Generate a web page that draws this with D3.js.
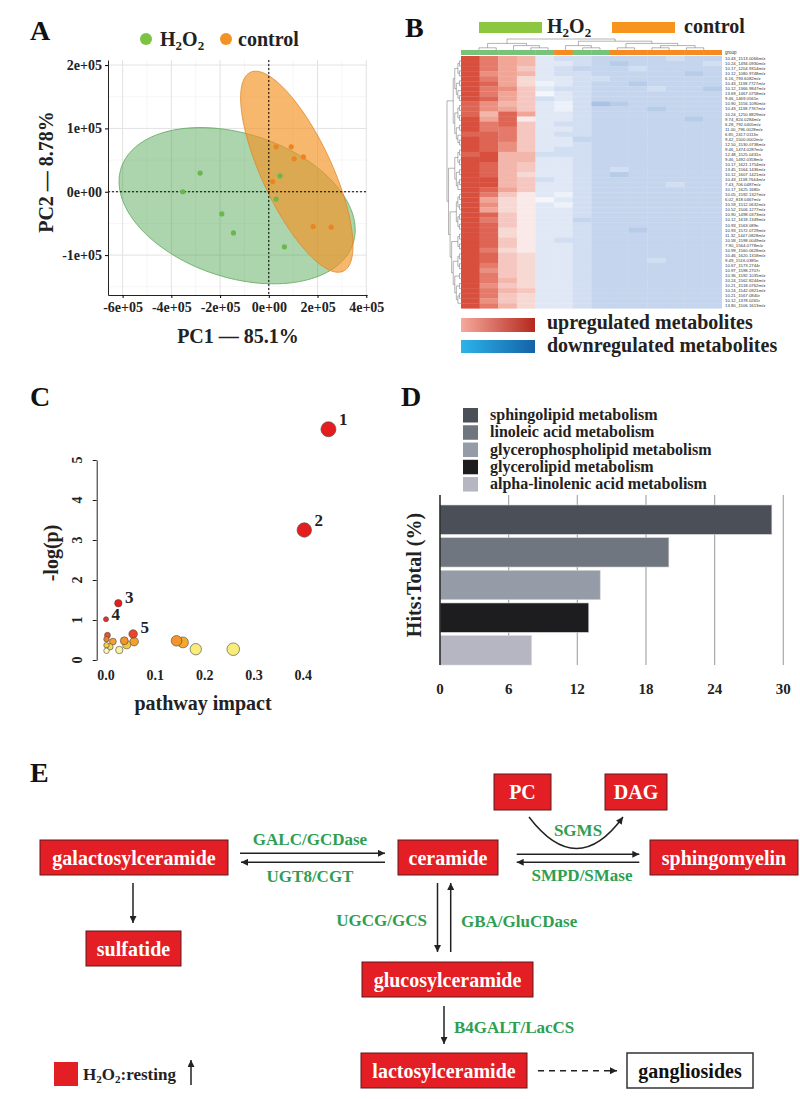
<!DOCTYPE html>
<html><head><meta charset="utf-8">
<script src="https://cdn.jsdelivr.net/npm/d3@7"></script>
<style>body{margin:0;background:#fff}svg{display:block}</style>
</head><body><script>
// ================= DATA =================
// Panel A: PCA scores
const pcaGroups = ["H2O2","H2O2","H2O2","H2O2","H2O2","H2O2","H2O2","control","control","control","control","control","control","control"];
const pcaPC1 = [-3.53e5,-2.82e5,-1.93e5,-1.45e5,0.64e5,0.46e5,0.30e5, 0.30e5,0.92e5,1.04e5,1.42e5,0.16e5,1.82e5,2.56e5];
const pcaPC2 = [0,2.95e4,-3.5e4,-6.5e4,-8.7e4,2.5e4,-1.15e4, 7.1e4,7.1e4,5.2e4,5.5e4,1.6e4,-5.5e4,-5.6e4];
const ellipseGroups = ["H2O2","control"];
const ellipseCenter = [[-1.30e5,-2.2e4],[1.15e5,3.16e4]];
const ellipseAxis1 = [[4.76e5,-5.96e4],[1.905e5,-1.57e5]];
const ellipseAxis2 = [[-9.1e4,-1.08e5],[-1.30e5,-2.34e4]];
const pcaXTicks = [-6e5,-4e5,-2e5,0,2e5,4e5];
const pcaYTicks = [-1e5,0,1e5,2e5];

// Panel B: heatmap
const colGroups = ["H2O2","H2O2","H2O2","H2O2","H2O2","control","H2O2","H2O2","control","control","control","control","control","control"];
const heatValues = [
 [9,7,5,4,-2,-3,-3,-4,-4,-4,-4,-3,-4,-4],
 [9,7,5,4,-2,-2,-3,-4,-5,-4,-4,-4,-4,-3],
 [9,7,5,3,-2,-3,-4,-4,-4,-3,-4,-4,-4,-4],
 [9,6,5,4,-2,-3,-3,-4,-4,-4,-4,-4,-5,-4],
 [9,7,5,2,-2,-2,-3,-3,-4,-4,-4,-4,-4,-4],
 [9,8,5,2,-1,-2,-3,-4,-4,-5,-4,-4,-4,-4],
 [9,7,6,3,-2,-3,-3,-4,-4,-4,-3,-4,-4,-5],
 [9,7,5,3,-0.5,-2,-3,-4,-4,-4,-4,-4,-4,-4],
 [9,8,5,3,-3,-2,-3,-4,-4,-4,-4,-4,-4,-4],
 [8,6,4,3,-2,-1,-3,-6,-5,-4,-4,-4,-4,-4],
 [8,6,5,3,-2,-1,-3,-4,-4,-4,-5,-4,-4,-4],
 [8,4,8,5,-2,-2,-3,-4,-4,-4,-4,-4,-4,-4],
 [9,5,8,1,-2,-2,-3,-4,-4,-4,-4,-4,-5,-4],
 [9,7,8,3,-2,-3,-3,-4,-4,-4,-4,-4,-4,-4],
 [9,7,7,3,-2,-2,-3,-4,-4,-4,-4,-4,-4,-4],
 [8,8,7,3,-2,-3,-3,-4,-4,-4,-4,-4,-4,-4],
 [9,8,7,3,-2,-2,-4,-4,-4,-4,-4,-4,-4,-4],
 [9,8,6,3,-2,-2,-3,-4,-4,-4,-4,-4,-4,-4],
 [9,8,6,3,-2,-3,-3,-4,-4,-4,-4,-4,-4,-4],
 [8,9,4,4,-3,-3,-3,-4,-4,-4,-4,-4,-4,-4],
 [9,9,4,4,-2,-2,-3,-4,-4,-4,-4,-4,-4,-4],
 [9,8,4,3,-2,-2,-3,-4,-4,-4,-4,-4,-4,-4],
 [9,8,4,3,-2,-2,-3,-4,-3,-4,-4,-4,-4,-4],
 [9,8,4,2,-2,-2,-3,-4,-5,-4,-4,-4,-4,-4],
 [9,9,4,3,-3,-2,-3,-4,-4,-4,-4,-4,-4,-4],
 [9,9,4,3,-2,-2,-3,-4,-4,-4,-4,-3,-4,-4],
 [9,8,5,3,-2,-2,-3,-4,-4,-4,-4,-4,-4,-4],
 [9,7,3,1,-2,-1,-3,-4,-4,-4,-4,-4,-4,-4],
 [9,5,2,1,-0.5,-2,-3,-4,-4,-4,-4,-4,-4,-4],
 [9,6,2,1,-2,-1,-3,-4,-4,-4,-4,-4,-4,-4],
 [9,5,2,1,-2,-2,-3,-4,-4,-4,-4,-4,-4,-4],
 [9,8,3,1,-2,-2,-3,-4,-4,-4,-4,-4,-4,-4],
 [9,7,3,1,-2,-2,-4,-4,-4,-4,-4,-4,-4,-4],
 [9,8,3,1,-2,-2,-3,-4,-4,-4,-4,-4,-4,-4],
 [9,8,2,1,-2,-2,-3,-4,-4,-5,-4,-4,-4,-4],
 [9,8,2,1,-2,-2,-3,-4,-4,-4,-4,-4,-4,-4],
 [9,8,3,1,-2,-3,-3,-4,-4,-4,-4,-4,-4,-4],
 [9,8,3,1,-2,-2,-3,-4,-4,-4,-4,-4,-4,-4],
 [9,7,2,1,-2,-2,-3,-4,-4,-4,-4,-4,-4,-4],
 [9,8,3,2,-2,-2,-3,-4,-4,-4,-4,-4,-4,-4],
 [9,8,3,2,-2,-2,-3,-4,-4,-4,-3,-4,-4,-4],
 [9,7,3,2,-2,-2,-3,-4,-4,-4,-4,-4,-4,-4],
 [9,6,3,2,-2,-2,-3,-4,-4,-4,-4,-4,-4,-4],
 [9,7,3,2,-2,-2,-3,-4,-4,-4,-4,-4,-4,-4],
 [9,7,4,2,-2,-2,-3,-4,-4,-4,-4,-4,-4,-4],
 [9,6,3,2,-2,-2,-3,-4,-4,-4,-4,-4,-4,-4],
 [9,7,4,3,-2,-2,-3,-4,-4,-4,-4,-4,-4,-4],
 [9,7,3,2,-2,-2,-3,-4,-4,-4,-4,-4,-4,-4],
 [9,6,3,2,-2,-2,-3,-4,-4,-4,-4,-4,-4,-4],
 [9,7,4,2,-2,-2,-3,-4,-4,-4,-4,-4,-4,-4]
];
const rowLabels = ["10.43_1513.0066m/z","10.24_1494.0930m/z","10.17_1204.9314m/z","10.12_1080.9748m/z","6.16_793.6082m/z","10.43_1138.7727m/z","10.12_1366.9847m/z","13.69_1467.0758m/z","9.46_1469.0561n","10.90_1556.1090m/z","10.43_1138.7767m/z","10.24_1250.8829m/z","9.74_824.0284m/z","6.28_792.0405m/z","11.00_796.0028m/z","6.85_2417.0113n","9.42_1500.0002m/z","12.50_1530.0738m/z","9.46_1474.0287m/z","12.48_1525.0431n","9.46_1492.0358m/z","10.17_1621.1754m/z","13.45_1564.1436m/z","10.12_1607.1421m/z","10.43_1138.7644m/z","7.43_706.0487m/z","10.17_1625.1680r","10.05_1592.1327m/z","6.02_818.0467m/z","10.59_1512.0632m/z","10.52_1506.1277m/z","10.90_1498.0373m/z","10.12_1618.1349m/z","10.93_1563.089n","10.93_1572.0729m/z","11.32_1447.0828m/z","10.58_1598.0049m/z","7.90_1564.0778m/z","10.99_1560.0628m/z","10.46_1620.1318m/z","9.49_1516.0385n","10.67_1573.2744r","10.97_1598.2707r","10.36_1592.1035m/z","10.24_1562.8244m/z","10.21_1518.0762m/z","10.24_1542.0921m/z","10.21_1567.0840r","10.12_1378.0265r","13.80_1506.1613m/z"];
const rowTree = [
  [
    [[[0,1],[2,3]], [[4,5],[6,[7,8]]]],
    [[[9,10],[11,12]], [[13,14],[15,[16,17]]]]
  ],
  [
    [[[18,19],[20,21]], [[22,23],[[24,25],26]]],
    [
      [[[27,28],[29,30]], [[31,32],[33,34]]],
      [[[35,36],[37,38]], [[[39,40],[41,42]], [[43,44],[[45,46],[[47,48],49]]]]]
    ]
  ]
];
const colTree = [[[0,1],[2,[3,4]]], [[5,[6,7]], [[8,9],[[10,11],[12,13]]]]];

// Panel C: pathway analysis
const pathImpact = [0.451,0.402,0.025,0.0,0.055,0.003,0.001,0.037,0.057,0.014,0.042,0.001,0.008,0.001,0.027,0.143,0.156,0.182,0.258];
const pathLogP   = [5.77,3.25,1.42,1.02,0.65,0.62,0.52,0.48,0.46,0.46,0.38,0.37,0.33,0.23,0.25,0.48,0.44,0.27,0.27];
const pathLabels = ["1","2","3","4","5","","","","","","","","","","","","","",""];
const cXTicks = [0,0.1,0.2,0.3,0.4];
const cYTicks = [0,1,2,3,4,5];

// Panel D: hits / total
const pathwayNames = ["sphingolipid metabolism","linoleic acid metabolism","glycerophospholipid metabolism","glycerolipid metabolism","alpha-linolenic acid metabolism"];
const hitsPct = [29,20,14,13,8];
const dTicks = [0,6,12,18,24,30];

// Panel E: pathway diagram nodes
const nodeNames = ["galactosylceramide","ceramide","sphingomyelin","PC","DAG","sulfatide","glucosylceramide","lactosylceramide","gangliosides"];
const enzymeNames = ["GALC/GCDase","UGT8/CGT","SGMS","SMPD/SMase","UGCG/GCS","GBA/GluCDase","B4GALT/LacCS"];

// ================= DRAWING =================
const FONT = "'Liberation Serif','Times New Roman',Times,serif";
const svg = d3.select("body").append("svg").attr("width",800).attr("height",1099)
  .attr("font-family",FONT).attr("font-weight","bold");
svg.append("rect").attr("width",800).attr("height",1099).attr("fill","#fff");

function h2o2(t, size){
  t.append("tspan").text("H");
  t.append("tspan").attr("font-size",size*0.65).attr("dy",size*0.2).text("2");
  t.append("tspan").attr("dy",-size*0.2).text("O");
  t.append("tspan").attr("font-size",size*0.65).attr("dy",size*0.2).text("2");
  return t;
}
function panelLabel(txt,x,y){
  svg.append("text").attr("x",x).attr("y",y).attr("font-size",28).attr("fill","#111").text(txt);
}
panelLabel("A",30,40); panelLabel("B",405,37); panelLabel("C",30,406); panelLabel("D",401,406); panelLabel("E",30,782);

// ---------- Panel A ----------
const gA = svg.append("g");
const ax = d3.scaleLinear().domain([-6.6e5,4.03e5]).range([108,367]);
const ay = d3.scaleLinear().domain([-1.63e5,2.08e5]).range([295,60]);
const xMinor = pcaXTicks.slice(0,-1).map((v,i)=>(v+pcaXTicks[i+1])/2);
const yMinor = [pcaYTicks[0]-5e4].concat(pcaYTicks.slice(0,-1).map((v,i)=>(v+pcaYTicks[i+1])/2));
gA.selectAll(".xmin").data(xMinor).join("line").attr("x1",d=>ax(d)).attr("x2",d=>ax(d)).attr("y1",60).attr("y2",295).attr("stroke","#f0f0f0").attr("stroke-width",0.6);
gA.selectAll(".ymin").data(yMinor).join("line").attr("y1",d=>ay(d)).attr("y2",d=>ay(d)).attr("x1",108).attr("x2",367).attr("stroke","#f0f0f0").attr("stroke-width",0.6);
gA.selectAll(".xmaj").data(pcaXTicks).join("line").attr("x1",d=>ax(d)).attr("x2",d=>ax(d)).attr("y1",60).attr("y2",295).attr("stroke","#e2e2e2").attr("stroke-width",1);
gA.selectAll(".ymaj").data(pcaYTicks).join("line").attr("y1",d=>ay(d)).attr("y2",d=>ay(d)).attr("x1",108).attr("x2",367).attr("stroke","#e2e2e2").attr("stroke-width",1);

const ellFill = {H2O2:"#3c9a3c", control:"#f39220"};
const ellOp = {H2O2:0.42, control:0.65};
const ellStroke = {H2O2:"#5da65a", control:"#e0862a"};
const tSamples = d3.range(0, 2*Math.PI, Math.PI/90);
ellipseGroups.forEach((g,i)=>{
  const pts = tSamples.map(t=>[
    ax(ellipseCenter[i][0] + ellipseAxis1[i][0]*Math.cos(t) + ellipseAxis2[i][0]*Math.sin(t)),
    ay(ellipseCenter[i][1] + ellipseAxis1[i][1]*Math.cos(t) + ellipseAxis2[i][1]*Math.sin(t))]);
  gA.append("path").attr("d",d3.line().curve(d3.curveLinearClosed)(pts))
    .attr("fill",ellFill[g]).attr("fill-opacity",ellOp[g]).attr("stroke",ellStroke[g]).attr("stroke-width",0.8);
});
// reference lines
gA.append("line").attr("x1",ax(0)).attr("x2",ax(0)).attr("y1",60).attr("y2",295).attr("stroke","#000").attr("stroke-dasharray","2,2");
gA.append("line").attr("y1",ay(0)).attr("y2",ay(0)).attr("x1",108).attr("x2",367).attr("stroke","#000").attr("stroke-dasharray","2,2");
const ptCol = {H2O2:"#69b84f", control:"#ef8322"};
gA.selectAll(".pt").data(pcaPC1.map((v,i)=>i)).join("circle")
  .attr("cx",i=>ax(pcaPC1[i])).attr("cy",i=>ay(pcaPC2[i])).attr("r",2.6).attr("fill",i=>ptCol[pcaGroups[i]]);
const fmtE = v => { if (v===0) return "0e+00"; const e=Math.floor(Math.log10(Math.abs(v))); const m=Math.round(v/Math.pow(10,e)); return m+"e"+(e<0?"-":"+")+String(Math.abs(e)).padStart(2,"0"); };
const axB = gA.append("g").attr("transform","translate(0,295)").call(d3.axisBottom(ax).tickValues(pcaXTicks).tickFormat(fmtE).tickSize(3).tickPadding(4).tickSizeOuter(0));
const axL = gA.append("g").attr("transform","translate(108,0)").call(d3.axisLeft(ay).tickValues(pcaYTicks).tickFormat(fmtE).tickSize(3).tickPadding(3).tickSizeOuter(0));
[axB,axL].forEach(a=>{a.attr("font-family",FONT).attr("font-size",14).attr("font-weight","bold");
  a.selectAll("text").attr("fill","#222"); a.select(".domain").attr("stroke","#222");});
gA.append("text").attr("x",238).attr("y",343).attr("text-anchor","middle").attr("font-size",20).attr("fill","#222").text("PC1 — 85.1%");
gA.append("text").attr("transform","translate(53,172) rotate(-90)").attr("text-anchor","middle").attr("font-size",20).attr("fill","#222").text("PC2 — 8.78%");
gA.append("circle").attr("cx",146).attr("cy",39).attr("r",6).attr("fill","#7cc243");
h2o2(gA.append("text").attr("x",160).attr("y",46).attr("font-size",20).attr("fill","#222"),20);
gA.append("circle").attr("cx",226).attr("cy",39).attr("r",6).attr("fill","#f39325");
gA.append("text").attr("x",238).attr("y",46).attr("font-size",20).attr("fill","#222").text("control");

// ---------- Panel B ----------
const gB = svg.append("g");
const hx = d3.scaleBand().domain(d3.range(14)).range([461,721.7]);
const hy = d3.scaleBand().domain(d3.range(50)).range([56,308.3]);
const heatColor = d3.scaleLinear().domain([-6,0,5,10]).range(["#a9c2e5","#fbfbfe","#f1a596","#d23a28"]);
heatValues.forEach((row,r)=>{
  gB.selectAll(null).data(row).join("rect")
    .attr("x",(d,c)=>hx(c)).attr("y",hy(r)).attr("width",hx.bandwidth()+0.3).attr("height",hy.bandwidth()+0.3)
    .attr("fill",d=>heatColor(d));
});
const grpCol = {H2O2:"#79c27b", control:"#f58b22"};
gB.selectAll(".hdr").data(colGroups).join("rect").attr("x",(d,c)=>hx(c)).attr("y",50).attr("width",hx.bandwidth()+0.3).attr("height",5).attr("fill",d=>grpCol[d]);
gB.append("text").attr("x",725).attr("y",54).attr("font-size",4.5).attr("font-family","Liberation Sans, Arial, sans-serif").attr("font-weight","normal").attr("fill","#333").text("group");
gB.selectAll(".rl").data(rowLabels).join("text").attr("x",725).attr("y",(d,i)=>hy(i)+hy.bandwidth()/2+1.5)
  .attr("font-size",4.3).attr("font-family","Liberation Sans, Arial, sans-serif").attr("font-weight","normal").attr("fill","#333").text(d=>d);
// dendrograms
function toHier(a){ return d3.hierarchy(a, d => Array.isArray(d) ? d : null); }
const rRoot = toHier(rowTree);
d3.cluster().size([hy.step()*49, 14]).separation(()=>1)(rRoot);
const rPos = n => hy(0)+hy.bandwidth()/2 + n.x, rDep = n => 447 + n.y;
gB.append("g").selectAll("path").data(rRoot.links()).join("path")
  .attr("d",l=>`M${rDep(l.source)},${rPos(l.source)}V${rPos(l.target)}H${rDep(l.target)}`)
  .attr("fill","none").attr("stroke","#666").attr("stroke-width",0.5);
const cRoot = toHier(colTree);
d3.cluster().size([hx.step()*13, 11]).separation(()=>1)(cRoot);
const cPos = n => hx(0)+hx.bandwidth()/2 + n.x, cDep = n => 39 + n.y;
gB.append("g").selectAll("path").data(cRoot.links()).join("path")
  .attr("d",l=>`M${cPos(l.source)},${cDep(l.source)}H${cPos(l.target)}V${cDep(l.target)}`)
  .attr("fill","none").attr("stroke","#666").attr("stroke-width",0.5);
// top legend
gB.append("rect").attr("x",479).attr("y",22).attr("width",63).attr("height",11).attr("fill","#8dc63f");
h2o2(gB.append("text").attr("x",547).attr("y",33).attr("font-size",20).attr("fill","#222"),20);
gB.append("rect").attr("x",612).attr("y",22).attr("width",63).attr("height",11).attr("fill","#f7941d");
gB.append("text").attr("x",684).attr("y",33).attr("font-size",20).attr("fill","#222").text("control");
// colour legend
const defs = svg.append("defs");
const gr1 = defs.append("linearGradient").attr("id","gUp");
gr1.append("stop").attr("offset","0%").attr("stop-color","#f5a99c");
gr1.append("stop").attr("offset","100%").attr("stop-color","#b5281d");
const gr2 = defs.append("linearGradient").attr("id","gDown");
gr2.append("stop").attr("offset","0%").attr("stop-color","#2cb3ea");
gr2.append("stop").attr("offset","100%").attr("stop-color","#1463a6");
gB.append("rect").attr("x",461).attr("y",318).attr("width",74).attr("height",14).attr("fill","url(#gUp)");
gB.append("rect").attr("x",461).attr("y",340).attr("width",74).attr("height",13).attr("fill","url(#gDown)");
gB.append("text").attr("x",547).attr("y",329).attr("font-size",20).attr("fill","#222").text("upregulated metabolites");
gB.append("text").attr("x",547).attr("y",352).attr("font-size",20).attr("fill","#222").text("downregulated metabolites");

// ---------- Panel C ----------
const gC = svg.append("g");
const cx = d3.scaleLinear().domain([0,0.4]).range([106,303.3]);
const cy = d3.scaleLinear().domain([0,5]).range([660,460]);
const cr = d3.scalePow().exponent(0.5).domain([0,0.45]).range([2.5,7.5]);
const cCol = d3.scaleLinear().domain([0.2,0.27,0.4,0.5,0.65,1.4]).range(["#ffffff","#f9ec7a","#f7c02e","#f28a2a","#e8452a","#e41e1e"]).clamp(true);
const yAxC = gC.append("g").attr("transform","translate(96.7,0)").call(d3.axisLeft(cy).tickValues(cYTicks).tickSize(4).tickSizeOuter(0).tickFormat(""));
yAxC.select(".domain").attr("stroke","#222"); yAxC.selectAll("line").attr("stroke","#222");
gC.selectAll(".yt").data(cYTicks).join("text").attr("transform",d=>`translate(82,${cy(d)}) rotate(-90)`)
  .attr("text-anchor","middle").attr("font-size",14).attr("fill","#222").text(d=>d);
gC.selectAll(".xt").data(cXTicks).join("text").attr("x",d=>cx(d)).attr("y",680).attr("text-anchor","middle")
  .attr("font-size",14).attr("fill","#222").text(d=>d.toFixed(1));
const order = d3.range(pathImpact.length).sort((a,b)=>cr(pathImpact[b])-cr(pathImpact[a]));
gC.selectAll(".cp").data(order).join("circle").attr("cx",i=>cx(pathImpact[i])).attr("cy",i=>cy(pathLogP[i]))
  .attr("r",i=>cr(pathImpact[i])).attr("fill",i=>cCol(pathLogP[i])).attr("stroke","#444").attr("stroke-width",0.6);
gC.selectAll(".cl").data(d3.range(pathLabels.length).filter(i=>pathLabels[i])).join("text")
  .attr("x",i=>cx(pathImpact[i])+cr(pathImpact[i])+3).attr("y",i=>cy(pathLogP[i])-cr(pathImpact[i])+3)
  .attr("font-size",17).attr("fill","#222").text(i=>pathLabels[i]);
gC.append("text").attr("transform","translate(58,553) rotate(-90)").attr("text-anchor","middle").attr("font-size",20).attr("fill","#222").text("-log(p)");
gC.append("text").attr("x",203).attr("y",710).attr("text-anchor","middle").attr("font-size",20).attr("fill","#222").text("pathway impact");

// ---------- Panel D ----------
const gD = svg.append("g");
const dColors = ["#4b4f57","#70767f","#959ca7","#1d1d20","#b6b6c3"];
const dx = d3.scaleLinear().domain([0,30]).range([440,783.3]);
const dy = d3.scaleBand().domain(pathwayNames).range([505,665]).paddingInner(0.1);
gD.selectAll(".gl").data(dTicks.slice(1)).join("line").attr("x1",d=>dx(d)).attr("x2",d=>dx(d)).attr("y1",495).attr("y2",665).attr("stroke","#a8a8a8").attr("stroke-width",1.2);
gD.selectAll(".bar").data(pathwayNames).join("rect").attr("x",dx(0)).attr("y",d=>dy(d)).attr("width",(d,i)=>dx(hitsPct[i])-dx(0)).attr("height",dy.bandwidth())
  .attr("fill",(d,i)=>dColors[i]).attr("stroke","#d6d6d6").attr("stroke-width",0.6);
gD.append("line").attr("x1",440).attr("x2",440).attr("y1",495).attr("y2",665).attr("stroke","#222").attr("stroke-width",1.5);
gD.selectAll(".dt").data(dTicks).join("text").attr("x",d=>dx(d)).attr("y",694).attr("text-anchor","middle").attr("font-size",15).attr("fill","#222").text(d=>d);
gD.append("text").attr("transform","translate(421,575) rotate(-90)").attr("text-anchor","middle").attr("font-size",20).attr("fill","#222").text("Hits:Total (%)");
const ly = d3.scaleBand().domain(pathwayNames).range([408,494.3]);
gD.selectAll(".lsq").data(pathwayNames).join("rect").attr("x",463).attr("y",d=>ly(d)).attr("width",15).attr("height",14.5).attr("fill",(d,i)=>dColors[i]);
gD.selectAll(".ltx").data(pathwayNames).join("text").attr("x",490).attr("y",d=>ly(d)+12).attr("font-size",16).attr("fill","#222").text(d=>d);

// ---------- Panel E ----------
const gE = svg.append("g");
const mk = defs.append("marker").attr("id","arr").attr("viewBox","0 0 10 10").attr("refX",10).attr("refY",5)
  .attr("markerWidth",9).attr("markerHeight",7).attr("markerUnits","userSpaceOnUse").attr("orient","auto");
mk.append("path").attr("d","M0,0L10,5L0,10z").attr("fill","#222");
const boxes = {
  galactosylceramide:[40,840,188,35], ceramide:[398,840,100,35], sphingomyelin:[650,840,148,35],
  PC:[494,774,57,36], DAG:[605,774,62,36], sulfatide:[86,931,95,35],
  glucosylceramide:[362,962,171,35], lactosylceramide:[361,1053,166,35], gangliosides:[627,1053,126,35]
};
nodeNames.forEach(n=>{
  const [x,y,w,h] = boxes[n]; const white = n==="gangliosides";
  gE.append("rect").attr("x",x).attr("y",y).attr("width",w).attr("height",h)
    .attr("fill",white?"#fff":"#e31e24").attr("stroke",white?"#333":"#5a1a1a").attr("stroke-width",white?1.5:1);
  gE.append("text").attr("x",x+w/2).attr("y",y+h/2).attr("dy","0.35em").attr("text-anchor","middle")
    .attr("font-size",20).attr("fill",white?"#111":"#fff").text(n);
});
const arrows = [
  [[133,883],[133,923]],
  [[240,853.3],[385,853.3]], [[385,862.3],[241,862.3]],
  [[516.7,854.3],[639.3,854.3]], [[639.3,862.3],[516.7,862.3]],
  [[437.5,883],[437.5,952]], [[450.7,952],[450.7,883]],
  [[444,1006],[444,1044]],
  [[191,1085],[191,1060]]
];
arrows.forEach(a=>gE.append("line").attr("x1",a[0][0]).attr("y1",a[0][1]).attr("x2",a[1][0]).attr("y2",a[1][1])
  .attr("stroke","#222").attr("stroke-width",1.5).attr("marker-end","url(#arr)"));
gE.append("line").attr("x1",538).attr("y1",1070.7).attr("x2",617).attr("y2",1070.7).attr("stroke","#222").attr("stroke-width",1.5)
  .attr("stroke-dasharray","6,5").attr("marker-end","url(#arr)");
gE.append("path").attr("d","M529,817 Q577,880 623,817").attr("fill","none").attr("stroke","#222").attr("stroke-width",1.5).attr("marker-end","url(#arr)");
const green = "#2e9e50";
const enzPos = [[310,845,"middle"],[310,882,"middle"],[578,836,"middle"],[582,881,"middle"],[427,926,"end"],[461,927,"start"],[454,1033,"start"]];
enzymeNames.forEach((e,i)=>gE.append("text").attr("x",enzPos[i][0]).attr("y",enzPos[i][1]).attr("text-anchor",enzPos[i][2])
  .attr("font-size",17).attr("fill",green).text(e));
gE.append("rect").attr("x",54).attr("y",1062).attr("width",24).attr("height",24).attr("fill","#e31e24");
const lt = h2o2(gE.append("text").attr("x",83).attr("y",1080).attr("font-size",17).attr("fill","#222"),17);
lt.append("tspan").attr("dy",-17*0.2).text(":resting");
</script></body></html>
